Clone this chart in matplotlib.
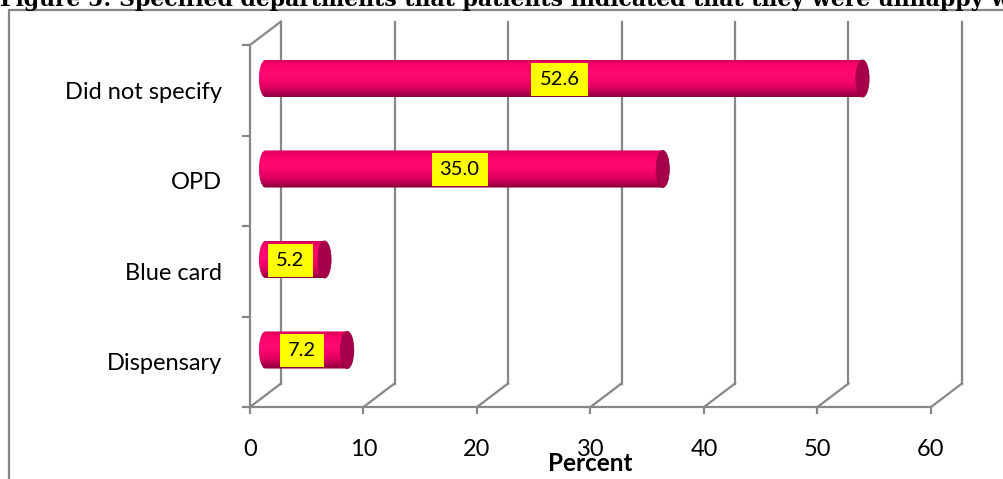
import matplotlib.pyplot as plt
import matplotlib.transforms as mtransforms
import matplotlib.patches as mpatches
from matplotlib.path import Path
from matplotlib.colors import LinearSegmentedColormap
import numpy as np

# data
departments = ['Dispensary', 'Blue card', 'OPD', 'Did not specify']
percent = [7.2, 5.2, 35.0, 52.6]
x_ticks = [0, 10, 20, 30, 40, 50, 60]
title = 'Figure 5: Specified departments that patients indicated that they were unhappy with'

W, H = 1004, 479
fig = plt.figure(figsize=(W / 100, H / 100), dpi=100)
fig.patch.set_facecolor('white')

grey = '#878787'
font = 'Lato'

# plot area (front plane of the 3d box)
ax = fig.add_axes([250 / W, 72 / H, 681 / W, 362 / H])
ax.set_xlim(0, 60)
ax.set_ylim(-0.5, 3.5)
ax.patch.set_alpha(0)

# depth offsets in pixels
back = mtransforms.offset_copy(ax.transData, fig=fig, x=31, y=23.5, units='dots')
mid = mtransforms.offset_copy(ax.transData, fig=fig, x=15.5, y=11.75, units='dots')
lab = mtransforms.offset_copy(ax.transData, fig=fig, x=11, y=11, units='dots')

# back wall gridlines + floor diagonals
for xv in x_ticks:
    ax.plot([xv, xv], [-0.5, 3.5], color=grey, lw=1.6, transform=back, clip_on=False, zorder=1)
    p0 = ax.transData.transform((xv, -0.5))
    p1 = back.transform((xv, -0.5))
    ax.plot([p0[0], p1[0]], [p0[1], p1[1]], color=grey, lw=1.6,
            transform=None, clip_on=False, zorder=1)
# left wall top edge
p0 = ax.transData.transform((0, 3.5))
p1 = back.transform((0, 3.5))
ax.plot([p0[0], p1[0]], [p0[1], p1[1]], color=grey, lw=1.6, transform=None, clip_on=False, zorder=1)

# cylinder shading
shade = LinearSegmentedColormap.from_list('cyl', [
    (0.0, '#8a003e'), (0.12, '#b8004f'), (0.32, '#e80063'),
    (0.6, '#ff0a72'), (0.85, '#fa006a'), (0.96, '#e6005f'), (1.0, '#c80057')])

h = 0.41
ew = 0.58
n_strips = 36
for i, v in enumerate(percent):
    y0, y1 = i - h / 2, i + h / 2
    t = np.linspace(np.pi / 2, 3 * np.pi / 2, 30)
    verts = [(ew * np.cos(a), i + h / 2 * np.sin(a)) for a in t]
    verts += [(v, y0), (v, y1), (0, y1), (0, y1)]
    codes = [Path.MOVETO] + [Path.LINETO] * (len(verts) - 2) + [Path.CLOSEPOLY]
    outline = mpatches.PathPatch(Path(verts, codes), facecolor='none', edgecolor='none',
                                 transform=mid)
    ax.add_patch(outline)
    dh = h / n_strips
    for k in range(n_strips):
        bars = ax.barh(y0 + k * dh, v + ew, left=-ew, height=dh * 1.05, align='edge',
                       color=shade((k + 0.5) / n_strips), linewidth=0,
                       transform=mid, zorder=3)
        for b in bars:
            b.set_clip_path(outline)
    cap = mpatches.Ellipse((v, i), 2 * ew, h, facecolor='#a6004a', edgecolor='#96003f',
                           lw=0.6, transform=mid, zorder=4)
    ax.add_patch(cap)
    ax.text(v / 2, i, f'{v:.1f}', transform=lab, ha='center', va='center',
            fontsize=14.5, family=font, color='black', zorder=6,
            bbox=dict(boxstyle='square,pad=0.4', facecolor='#ffff00', edgecolor='none'))

# front axes
for side in ['top', 'right']:
    ax.spines[side].set_visible(False)
for side in ['left', 'bottom']:
    ax.spines[side].set_color(grey)
    ax.spines[side].set_linewidth(1.6)

ax.set_xticks(x_ticks)
ax.set_xticklabels([str(x) for x in x_ticks], fontsize=17, family=font)
ax.tick_params(axis='x', direction='out', length=5, width=1.6, color=grey, pad=18)

ax.set_yticks(np.arange(-0.5, 4, 1.0))
ax.set_yticklabels([])
ax.set_yticks(range(len(departments)), minor=True)
ax.set_yticklabels(departments, minor=True, fontsize=17, family=font)
ax.tick_params(axis='y', which='minor', length=0, pad=20)
ax.tick_params(axis='y', which='major', direction='out', length=6, width=1.6, color=grey)

ax.set_xlabel('Percent', fontsize=17.5, family=font, fontweight='bold')
ax.xaxis.set_label_coords(0.5, -(471 - 407) / 362)
ax.xaxis.label.set_va('baseline')

# outer chart frame
frame = mpatches.Rectangle((9 / W, -0.1), 2, 1 - 10 / H + 0.1, transform=fig.transFigure,
                           fill=False, edgecolor=grey, lw=1.6)
fig.add_artist(frame)

fig.text(0.0, 1 - 6 / H, title, fontsize=15.8, family='DejaVu Serif', fontweight='bold',
         va='baseline', ha='left')

fig.savefig('out.png', dpi=100)
